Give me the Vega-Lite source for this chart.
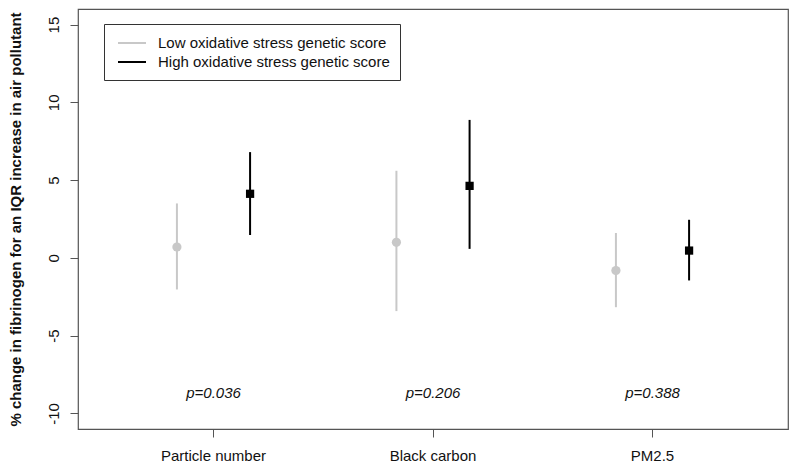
{
  "$schema": "https://vega.github.io/schema/vega-lite/v6.json",
  "width": 710,
  "height": 420,
  "autosize": "none",
  "padding": {"left": 78, "top": 9, "right": 6, "bottom": 39},
  "background": "white",
  "config": {
    "font": "Liberation Sans",
    "view": {"stroke": "#555555", "strokeWidth": 1.2},
    "axis": {"grid": false, "domain": false, "tickColor": "#555555", "labelColor": "#111111", "labelFontSize": 15, "labelFont": "Liberation Sans"}
  },
  "datasets": {
    "est": [
      {"pollutant": "Particle number", "group": "Low oxidative stress genetic score", "est": 0.7, "lo": -2.03, "hi": 3.5},
      {"pollutant": "Particle number", "group": "High oxidative stress genetic score", "est": 4.12, "lo": 1.47, "hi": 6.8},
      {"pollutant": "Black carbon", "group": "Low oxidative stress genetic score", "est": 1.0, "lo": -3.42, "hi": 5.6},
      {"pollutant": "Black carbon", "group": "High oxidative stress genetic score", "est": 4.63, "lo": 0.58, "hi": 8.87},
      {"pollutant": "PM2.5", "group": "Low oxidative stress genetic score", "est": -0.81, "lo": -3.17, "hi": 1.6},
      {"pollutant": "PM2.5", "group": "High oxidative stress genetic score", "est": 0.47, "lo": -1.45, "hi": 2.45}
    ],
    "pvals": [
      {"pollutant": "Particle number", "p": "p=0.036"},
      {"pollutant": "Black carbon", "p": "p=0.206"},
      {"pollutant": "PM2.5", "p": "p=0.388"}
    ]
  },
  "layer": [
    {
      "mark": {"type": "rule", "color": "#666666", "strokeDash": [2, 2], "strokeWidth": 1},
      "encoding": {"y": {"datum": 0, "type": "quantitative"}}
    },
    {
      "data": {"name": "est"},
      "mark": {"type": "rule", "strokeWidth": 2},
      "encoding": {
        "x": {"field": "pollutant", "type": "nominal", "sort": ["Particle number", "Black carbon", "PM2.5"],
              "scale": {"type": "band", "paddingInner": 0, "paddingOuter": 0.1173},
              "axis": {"title": null, "labelAngle": 0, "tickSize": 8, "labelPadding": 11, "labelFontSize": 15}},
        "xOffset": {"field": "group", "type": "nominal",
                    "sort": ["Low oxidative stress genetic score", "High oxidative stress genetic score"],
                    "scale": {"paddingInner": 0, "paddingOuter": 0.5}},
        "y": {"field": "lo", "type": "quantitative",
              "scale": {"domain": [-11, 16], "nice": false, "zero": false},
              "axis": {"values": [-10, -5, 0, 5, 10, 15], "labelAngle": -90, "labelAlign": "center", "labelBaseline": "middle",
                       "labelExpr": "datum.value < 0 ? '-' + abs(datum.value) : '' + datum.value",
                       "tickSize": 8, "labelPadding": 17, "labelFontSize": 15,
                       "title": "% change in fibrinogen for an IQR increase in air pollutant",
                       "titleFontSize": 15, "titleFontWeight": "bold", "titleColor": "#111111", "titlePadding": 23, "titleFont": "Liberation Sans"}},
        "y2": {"field": "hi"},
        "color": {"field": "group", "type": "nominal",
                  "sort": ["Low oxidative stress genetic score", "High oxidative stress genetic score"],
                  "scale": {"domain": ["Low oxidative stress genetic score", "High oxidative stress genetic score"], "range": ["#c8c8c8", "#000000"]},
                  "legend": {"title": null, "orient": "none", "legendX": 26, "legendY": 15, "symbolType": "M-1.75,0H1.75", "symbolSize": 256,
                             "symbolStrokeWidth": 2, "symbolOffset": 9, "labelFontSize": 15, "labelColor": "#111111", "labelFont": "Liberation Sans", "labelLimit": 400,
                             "strokeColor": "#333333", "fillColor": "white", "padding": 10, "rowPadding": 2, "labelOffset": 17}}
      }
    },
    {
      "data": {"name": "est"},
      "transform": [{"filter": "datum.group == 'Low oxidative stress genetic score'"}],
      "mark": {"type": "point", "filled": true, "opacity": 1, "shape": "circle", "size": 85, "color": "#c8c8c8"},
      "encoding": {
        "x": {"field": "pollutant", "type": "nominal", "sort": ["Particle number", "Black carbon", "PM2.5"]},
        "xOffset": {"field": "group", "type": "nominal", "sort": ["Low oxidative stress genetic score", "High oxidative stress genetic score"]},
        "y": {"field": "est", "type": "quantitative"}
      }
    },
    {
      "data": {"name": "est"},
      "transform": [{"filter": "datum.group == 'High oxidative stress genetic score'"}],
      "mark": {"type": "point", "filled": true, "opacity": 1, "shape": "square", "size": 68, "color": "#000000"},
      "encoding": {
        "x": {"field": "pollutant", "type": "nominal", "sort": ["Particle number", "Black carbon", "PM2.5"]},
        "xOffset": {"field": "group", "type": "nominal", "sort": ["Low oxidative stress genetic score", "High oxidative stress genetic score"]},
        "y": {"field": "est", "type": "quantitative"}
      }
    },
    {
      "data": {"name": "pvals"},
      "mark": {"type": "text", "fontStyle": "italic", "fontSize": 15, "color": "#111111", "font": "Liberation Sans"},
      "encoding": {
        "x": {"field": "pollutant", "type": "nominal", "sort": ["Particle number", "Black carbon", "PM2.5"]},
        "y": {"datum": -8.7, "type": "quantitative"},
        "text": {"field": "p"}
      }
    }
  ]
}
